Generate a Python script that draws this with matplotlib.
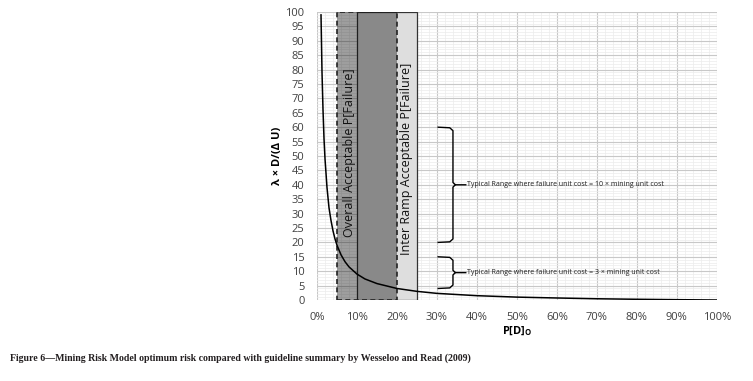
import matplotlib.pyplot as plt
from matplotlib.ticker import MultipleLocator, PercentFormatter

# optimum risk curve
p_fail = [0.01, 0.0125, 0.015, 0.0175, 0.02, 0.025, 0.03, 0.035, 0.04, 0.045,
          0.05, 0.06, 0.07, 0.08, 0.10, 0.12, 0.15, 0.20, 0.25, 0.30,
          0.40, 0.50, 0.60, 0.70, 0.80, 0.90, 1.00]
lam_ratio = [99, 79, 66, 56, 49, 39, 32, 27.6, 24, 21.2,
             19, 15.7, 13.3, 11.5, 9, 7.3, 5.7, 4, 3, 2.3,
             1.5, 1.0, 0.7, 0.43, 0.25, 0.11, 0.0]

# guideline bands (P[failure] ranges)
overall_band = (0.05, 0.20)
ramp_band = (0.10, 0.25)

# typical ranges of the y quantity
range_10x = (20, 60)
range_3x = (4, 15)
label_10x = "Typical Range where failure unit cost = 10 × mining unit cost"
label_3x = "Typical Range where failure unit cost = 3 × mining unit cost"

plt.rcParams['font.family'] = ['Open Sans', 'DejaVu Sans']

fig = plt.figure(figsize=(7.53, 3.81), dpi=100)
ax = fig.add_axes([0.421, 0.2126, 0.531, 0.7559])

ax.set_xlim(0, 1)
ax.set_ylim(0, 100)
ax.xaxis.set_major_locator(MultipleLocator(0.1))
ax.xaxis.set_minor_locator(MultipleLocator(0.02))
ax.yaxis.set_major_locator(MultipleLocator(5))
ax.yaxis.set_minor_locator(MultipleLocator(1))
ax.xaxis.set_major_formatter(PercentFormatter(1.0, decimals=0))
ax.grid(which='major', color='#c8c8c8', lw=0.8, zorder=0)
ax.grid(which='minor', color='#ececec', lw=0.5, zorder=0)
ax.set_axisbelow(True)
for s in ax.spines.values():
    s.set_visible(False)
ax.tick_params(which='both', length=0, labelsize=8, colors='#404040')
ax.tick_params(axis='x', pad=9)
ax.tick_params(axis='y', pad=9)

# bands
ax.axvspan(ramp_band[0], ramp_band[1], facecolor='#dedede',
           edgecolor='#333333', lw=0.9, zorder=1)
ax.axvspan(overall_band[0], overall_band[1], facecolor='black', alpha=0.38,
           edgecolor='none', zorder=2)
ax.axvspan(overall_band[0], overall_band[1], facecolor='none',
           edgecolor='#222222', ls=(0, (3, 2)), lw=1.2, zorder=3)

ax.text(0.08, 51, "Overall Acceptable P[Failure]", rotation=90, ha='center',
        va='center', fontsize=9, color='#111111', zorder=5)
ax.text(0.225, 49, "Inter Ramp Acceptable P[Failure]", rotation=90, ha='center',
        va='center', fontsize=9, color='#111111', zorder=5)

ax.plot(p_fail, lam_ratio, color='black', lw=1.1, zorder=4)


def brace(lo, hi, label):
    x0, xv, xt = 0.303, 0.34, 0.372
    mid = (lo + hi) / 2
    r = 0.8
    xs = [x0, xv - 0.008, xv, xv, xv + 0.006, xt]
    ys = [hi, hi - 0.2, hi - r * 1.5, mid + r, mid, mid]
    ax.plot(xs, ys, color='black', lw=1.0, zorder=4, solid_joinstyle='round')
    xs = [x0, xv - 0.008, xv, xv, xv + 0.006]
    ys = [lo, lo + 0.2, lo + r * 1.5, mid - r, mid]
    ax.plot(xs, ys, color='black', lw=1.0, zorder=4, solid_joinstyle='round')
    ax.text(xt + 0.002, mid, label, fontsize=5.0, va='center', ha='left',
            color='#222222', zorder=5)


brace(range_10x[0], range_10x[1], label_10x)
brace(range_3x[0], range_3x[1], label_3x)

ax.set_ylabel("λ × D/(Δ U)", fontsize=8, fontweight='bold', labelpad=2)
ax.set_xlabel("P[D]$_\\mathregular{O}$", fontsize=8, fontweight='bold', labelpad=1)

fig.text(0.013, 0.06, "Figure 6—Mining Risk Model optimum risk compared with "
         "guideline summary by Wesseloo and Read (2009)",
         family='Liberation Serif', fontweight='bold', fontsize=7.1, color='#231f20',
         va='center', ha='left')

fig.savefig("out.png", dpi=100)
